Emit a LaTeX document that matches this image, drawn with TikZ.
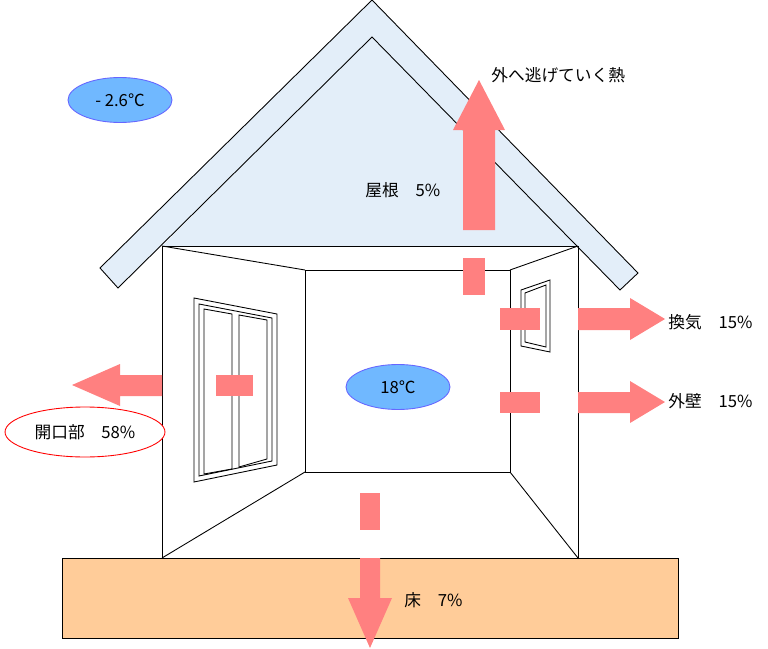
\documentclass[tikz,border=0pt]{standalone}
\usepackage{fontspec}
\setmainfont{Noto Sans CJK JP}
\usetikzlibrary{shapes.geometric}
\definecolor{roofblue}{HTML}{E3EEF9}
\definecolor{heat}{HTML}{FF8080}
\definecolor{slab}{HTML}{FFCC99}
\definecolor{temp}{HTML}{70B8FF}
\begin{document}
\begin{tikzpicture}
  [x=0.02cm, y=-0.02cm, line width=0.5pt]
  \tikzstyle{wall} = [draw=black];
  \tikzstyle{flow} = [fill=heat];
  \tikzstyle{label} = [font=\fontsize{9.5}{11}\selectfont, inner sep=0pt];
  \tikzstyle{temp_oval} = [ellipse, draw=blue!60, fill=temp, minimum width=2.08cm, minimum height=0.9cm, label];

  \useasboundingbox (0,0) rectangle (768,649);

  % attic and roof
  \fill[roofblue] (162,246) -- (372,37) -- (578,246) -- cycle;
  \filldraw[wall, fill=roofblue] (100,268) -- (372,0) -- (638,273) -- (620,290)
    -- (372,37) -- (118,288) -- cycle;

  % floor slab
  \filldraw[wall, fill=slab] (62,558) rectangle (678,638);

  % room
  \draw[wall] (162,246) rectangle (578,558);
  \draw[wall] (305,270) rectangle (510,472);
  \draw[wall] (162,246) -- (305,270);
  \draw[wall] (578,246) -- (510,270);
  \draw[wall] (162,558) -- (305,472);
  \draw[wall] (578,558) -- (510,472);

  % left window
  \draw[wall] (194,298) -- (277,314) -- (277,465) -- (194,482) -- cycle;
  \draw[wall] (199,304) -- (272,318) -- (272,461) -- (199,476) -- cycle;
  \draw[wall] (204,309) -- (232,314) -- (232,469) -- (204,474) -- cycle;
  \draw[wall] (239,315) -- (267,320) -- (267,459) -- (239,467) -- cycle;

  % right window
  \draw[wall] (521,290) -- (550,280) -- (550,352) -- (521,346) -- cycle;
  \draw[wall] (525,293) -- (546,285) -- (546,347) -- (525,342) -- cycle;

  % heat flows
  \fill[flow] (463,258) rectangle (485,295);
  \fill[flow] (463,230) -- (463,130) -- (453,130) -- (479,80) -- (505,130)
    -- (495,130) -- (495,230) -- cycle;
  \fill[flow] (500,308) rectangle (540,330);
  \fill[flow] (578,308) -- (630,308) -- (630,298) -- (665,319) -- (630,340)
    -- (630,330) -- (578,330) -- cycle;
  \fill[flow] (500,392) rectangle (540,413);
  \fill[flow] (578,392) -- (630,392) -- (630,381) -- (665,402) -- (630,423)
    -- (630,413) -- (578,413) -- cycle;
  \fill[flow] (216,375) rectangle (253,396);
  \fill[flow] (162,375) -- (120,375) -- (120,364) -- (72,385) -- (120,406)
    -- (120,396) -- (162,396) -- cycle;
  \fill[flow] (360,493) rectangle (380,530);
  \fill[flow] (360,558) -- (360,598) -- (348,598) -- (370,648) -- (392,598)
    -- (380,598) -- (380,558) -- cycle;

  % temperatures
  \node[temp_oval] (outside) at (120,100) {- 2.6℃};
  \node[temp_oval] (inside) at (398,387) {18℃};
  \node[ellipse, draw=red, fill=white, minimum width=3.2cm, minimum height=1cm, label]
    (opening) at (85,432) {開口部　58\%};

  % labels
  \node[label, anchor=west] (escape) at (491,75) {外へ逃げていく熱};
  \node[label, anchor=west] (roof) at (365,190) {屋根　5\%};
  \node[label, anchor=west] (vent) at (668,322) {換気　15\%};
  \node[label, anchor=west] (outer) at (668,401) {外壁　15\%};
  \node[label, anchor=west] (floor) at (404,600) {床　7\%};
\end{tikzpicture}
\end{document}
